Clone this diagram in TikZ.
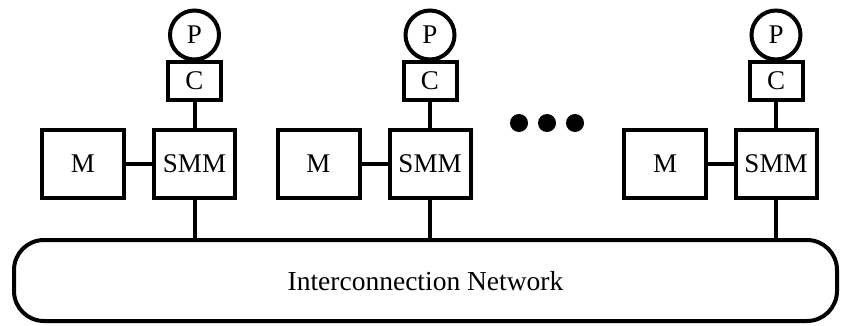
\documentclass[tikz,border=0pt]{standalone}
\usepackage{fontspec}
\setmainfont{Liberation Serif}
\begin{document}
\begin{tikzpicture}[x=1pt,y=-1pt,
  every node/.style={inner sep=0pt, outer sep=0pt, font=\fontsize{27}{30}\selectfont},
  unit/.style={draw, line width=4pt},
  membox/.style={unit, rectangle, minimum width=82pt, minimum height=68pt},
  smmbox/.style={unit, rectangle, minimum width=81pt, minimum height=68pt},
  cachebox/.style={unit, rectangle, minimum width=53pt, minimum height=38pt},
  proc/.style={unit, circle, minimum size=49pt},
  dot/.style={circle, fill=black, minimum size=18pt},
  wire/.style={line width=4pt}]
\useasboundingbox (0,0) rectangle (841,326);

\node[unit, rectangle, rounded corners=30pt, minimum width=823pt, minimum height=81pt,
      font=\fontsize{27.5}{30}\selectfont, text depth=-3pt] (net) at (425.5,280.5) {Interconnection Network};

\foreach \i/\mx/\sx in {1/83/194.5, 2/318.5/430, 3/665/776} {
  \node[membox] (m\i) at (\mx,164) {M};
  \node[smmbox] (s\i) at (\sx,164) {SMM};
  \node[cachebox] (c\i) at (\sx,81) {C};
  \node[proc] (p\i) at (\sx,35) {P};
  \draw[wire] (m\i.east) -- (s\i.west);
  \draw[wire] (c\i.south) -- (s\i.north);
  \draw[wire] (s\i.south) -- (s\i.south |- net.north);
}

\node[dot] (d1) at (519,123) {};
\node[dot] (d2) at (547,123) {};
\node[dot] (d3) at (575,123) {};
\end{tikzpicture}
\end{document}
